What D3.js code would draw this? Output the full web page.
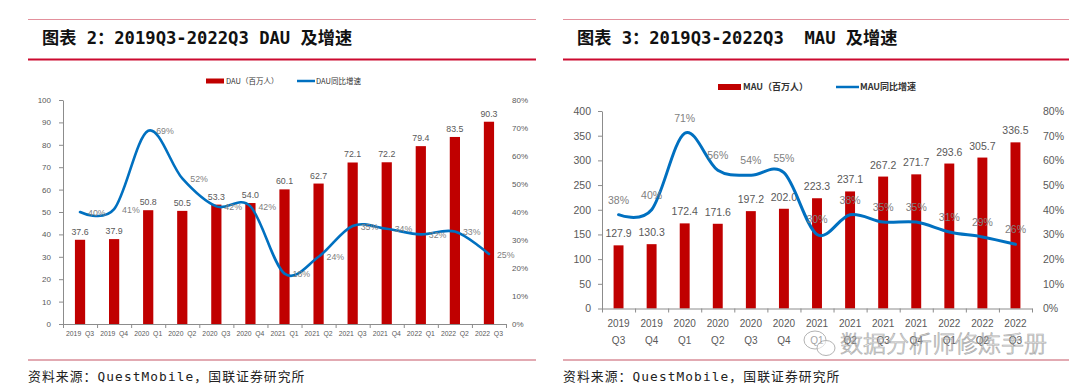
<!DOCTYPE html>
<html>
<head>
<meta charset="utf-8">
<script src="https://cdn.jsdelivr.net/npm/d3@7"></script>
<style>
  body { margin: 0; background: #fff; }
  svg { display: block; }
  .tick text { fill: #595959; }
</style>
</head>
<body>
<div id="canvas"></div>
<script>
// ---- data ----
var quarters = ["2019 Q3", "2019 Q4", "2020 Q1", "2020 Q2", "2020 Q3", "2020 Q4", "2021 Q1",
                "2021 Q2", "2021 Q3", "2021 Q4", "2022 Q1", "2022 Q2", "2022 Q3"];
var dauValues = [37.6, 37.9, 50.8, 50.5, 53.3, 54.0, 60.1, 62.7, 72.1, 72.2, 79.4, 83.5, 90.3];
var dauGrowth = [40, 41, 69, 52, 42, 42, 18, 24, 35, 34, 32, 33, 25];
var mauValues = [127.9, 130.3, 172.4, 171.6, 197.2, 202.0, 223.3, 237.1, 267.2, 271.7, 293.6, 305.7, 336.5];
var mauGrowth = [38, 40, 71, 56, 54, 55, 30, 38, 35, 35, 31, 29, 26];
var dauTicks = [0, 10, 20, 30, 40, 50, 60, 70, 80, 90, 100];
var mauTicks = [0, 50, 100, 150, 200, 250, 300, 350, 400];
var pctTicks = [0, 10, 20, 30, 40, 50, 60, 70, 80];

var width = 1080, height = 389;
var RED = "#c00000", BLUE = "#0070c0", GREY = "#595959";
var CJK = "'Noto Sans CJK SC', sans-serif";
var SANS = "'Liberation Sans', Arial, 'Noto Sans CJK SC', sans-serif";
var MONO = "'DejaVu Sans Mono', 'Noto Sans CJK SC', monospace";

var svg = d3.select("div#canvas").append("svg")
  .attr("width", width)
  .attr("height", height);

// header / footer frame for one panel
function frame(x0, x1, title, titleX) {
  svg.append("line").attr("x1", x0).attr("x2", x1).attr("y1", 19.5).attr("y2", 19.5)
    .attr("stroke", "#e3909c").attr("stroke-width", 1.2);
  svg.append("line").attr("x1", x0).attr("x2", x1).attr("y1", 59.5).attr("y2", 59.5)
    .attr("stroke", "#cc0a2f").attr("stroke-width", 1.8);
  svg.append("text").attr("x", titleX).attr("y", 44)
    .attr("font-family", MONO).attr("font-weight", "bold").attr("font-size", 17.2)
    .attr("fill", "#111").style("white-space", "pre")
    .text(title);
  svg.append("line").attr("x1", x0).attr("x2", x1).attr("y1", 360).attr("y2", 360)
    .attr("stroke", "#d98e98").attr("stroke-width", 1.5);
  svg.append("text").attr("x", titleX - 14).attr("y", 381)
    .attr("font-family", MONO).attr("font-size", 12.8).attr("letter-spacing", 1.1)
    .attr("fill", "#222")
    .text("资料来源：QuestMobile，国联证券研究所");
}

function drawPanel(o) {
  var n = o.cats.length;
  var x = d3.scaleBand().domain(o.cats).range([o.x0, o.x1])
    .paddingInner(0.7).paddingOuter(0.35);
  var xb = d3.scaleLinear().domain([0, n]).range([o.x0, o.x1]);
  var y = d3.scaleLinear().domain([0, o.ticks[o.ticks.length - 1]]).range([o.y0, o.y1]);
  var yp = d3.scaleLinear().domain([0, 80]).range([o.y0, o.y1]);
  var g = svg.append("g");

  // left axis
  var ya = g.append("g").attr("transform", "translate(" + o.x0 + ",0)")
    .call(d3.axisLeft(y).tickValues(o.ticks).tickSize(4).tickSizeOuter(0).tickPadding(o.tickPad));
  ya.selectAll("text").attr("font-family", SANS).attr("font-size", o.tickFont);
  ya.selectAll("line, path").attr("stroke", "#8c8c8c");

  // right axis (percent)
  var yr = g.append("g").attr("transform", "translate(" + o.pctX + ",0)")
    .call(d3.axisRight(yp).tickValues(pctTicks).tickSize(0).tickPadding(0)
      .tickFormat(function(d) { return d + "%"; }));
  yr.select(".domain").remove();
  yr.selectAll("text").attr("font-family", SANS).attr("font-size", o.tickFont).attr("fill", "#7f7f7f");

  // bars
  g.selectAll("rect.bar").data(o.bars).enter().append("rect")
    .attr("class", "bar")
    .attr("x", function(d, i) { return x(o.cats[i]); })
    .attr("width", x.bandwidth())
    .attr("y", function(d) { return y(d); })
    .attr("height", function(d) { return o.y0 - y(d); })
    .attr("fill", RED);

  // bottom axis, ticks at band boundaries
  var xa = g.append("g").attr("transform", "translate(0," + o.y0 + ")")
    .call(d3.axisBottom(xb).ticks(n).tickSize(4).tickSizeOuter(0).tickFormat(""));
  xa.selectAll("line, path").attr("stroke", "#8c8c8c");

  // category labels
  var lab = g.selectAll("text.cat").data(o.cats).enter().append("text")
    .attr("class", "cat")
    .attr("text-anchor", "middle")
    .attr("font-family", o.catFamily).attr("font-size", o.catFont)
    .attr("fill", GREY)
    .attr("transform", function(d) { return "translate(" + (x(d) + x.bandwidth() / 2) + "," + o.catY + ")"; });
  if (o.twoLine) {
    lab.append("tspan").attr("x", 0).attr("y", 0).text(function(d) { return d.split(" ")[0]; });
    lab.append("tspan").attr("x", 0).attr("y", o.catFont * 1.7).text(function(d) { return d.split(" ")[1]; });
  } else {
    lab.style("white-space", "pre").text(function(d) { return d.replace(" ", "  "); });
  }

  // bar value labels
  g.selectAll("text.val").data(o.bars).enter().append("text")
    .attr("class", "val")
    .attr("text-anchor", "middle")
    .attr("x", function(d, i) { return x(o.cats[i]) + x.bandwidth() / 2; })
    .attr("y", function(d) { return y(d) - o.valGap; })
    .attr("font-family", SANS).attr("font-size", o.valFont)
    .attr("fill", GREY)
    .text(function(d) { return d.toFixed(1); });

  // growth line
  var line = d3.line()
    .x(function(d, i) { return x(o.cats[i]) + x.bandwidth() / 2; })
    .y(function(d) { return yp(d); })
    .curve(d3.curveCardinal.tension(0));
  g.append("path").datum(o.growth)
    .attr("d", line)
    .attr("fill", "none")
    .attr("stroke", BLUE)
    .attr("stroke-width", o.lineW)
    .attr("stroke-linecap", "round");

  g.selectAll("text.pct").data(o.growth).enter().append("text")
    .attr("class", "pct")
    .attr("text-anchor", o.pctRight ? "start" : "middle")
    .attr("x", function(d, i) { return x(o.cats[i]) + x.bandwidth() / 2 + (o.pctRight ? 8 : 0); })
    .attr("y", function(d) { return yp(d) + (o.pctRight ? 3.5 : -11); })
    .attr("font-family", SANS).attr("font-size", o.valFont)
    .attr("fill", o.pctColor)
    .text(function(d) { return d + "%"; });

  // legend
  var lg = g.append("g").attr("transform", "translate(" + o.legX + "," + o.legY + ")");
  lg.append("rect").attr("x", 0).attr("y", -o.legH / 2).attr("width", o.legW).attr("height", o.legH).attr("fill", RED);
  lg.append("text").attr("x", o.legW + 2).attr("y", o.legFont * 0.36)
    .attr("font-family", CJK).attr("font-size", o.legFont).attr("font-weight", o.legWeight)
    .attr("fill", "#333").text(o.legBar);
  lg.append("line").attr("x1", o.legGap).attr("x2", o.legGap + o.legW).attr("y1", 0).attr("y2", 0)
    .attr("stroke", BLUE).attr("stroke-width", 2.5);
  lg.append("text").attr("x", o.legGap + o.legW + 1).attr("y", o.legFont * 0.36)
    .attr("font-family", CJK).attr("font-size", o.legFont).attr("font-weight", o.legWeight)
    .attr("fill", "#333").text(o.legLine);
}

frame(28, 536, "图表 2：2019Q3-2022Q3 DAU 及增速", 42);
frame(563, 1069, "图表 3：2019Q3-2022Q3  MAU 及增速", 577);

drawPanel({
  cats: quarters, bars: dauValues, growth: dauGrowth, ticks: dauTicks,
  x0: 63, x1: 506, y0: 324, y1: 100, pctX: 512,
  tickFont: 8, tickPad: 8, catFont: 6.8, catY: 336, catFamily: SANS, twoLine: false,
  valFont: 8.8, valGap: 5, lineW: 2.6, pctRight: true, pctColor: "#7f7f7f",
  legX: 206, legY: 81, legW: 18, legH: 5, legGap: 91, legFont: 7.5, legWeight: "normal",
  legBar: "DAU（百万人）", legLine: "DAU同比增速"
});

drawPanel({
  cats: quarters, bars: mauValues, growth: mauGrowth, ticks: mauTicks,
  x0: 602, x1: 1032, y0: 308.5, y1: 111, pctX: 1043,
  tickFont: 10.5, tickPad: 7, catFont: 10, catY: 327, catFamily: "'Liberation Sans Narrow', " + SANS, twoLine: true,
  valFont: 10.5, valGap: 8, lineW: 3, pctRight: false, pctColor: "#7f7f7f",
  legX: 718, legY: 87, legW: 23, legH: 6, legGap: 118, legFont: 9, legWeight: "bold",
  legBar: "MAU（百万人）", legLine: "MAU同比增速"
});

// watermark (drawn over the chart, as in the source image)
var wm = svg.append("g").attr("opacity", 0.75);
wm.append("ellipse").attr("cx", 815).attr("cy", 340).attr("rx", 11).attr("ry", 9)
  .attr("fill", "rgba(255,255,255,0.6)").attr("stroke", "#9a9a9a").attr("stroke-width", 1);
wm.append("ellipse").attr("cx", 826).attr("cy", 348).attr("rx", 9).attr("ry", 7.5)
  .attr("fill", "rgba(255,255,255,0.6)").attr("stroke", "#9a9a9a").attr("stroke-width", 1);
wm.append("text").attr("x", 840).attr("y", 352)
  .attr("font-family", CJK).attr("font-size", 23).attr("font-weight", 300)
  .attr("fill", "rgba(255,255,255,0.55)").attr("stroke", "#8f8f8f").attr("stroke-width", 0.7)
  .text("数据分析师修炼手册");
</script>
</body>
</html>
